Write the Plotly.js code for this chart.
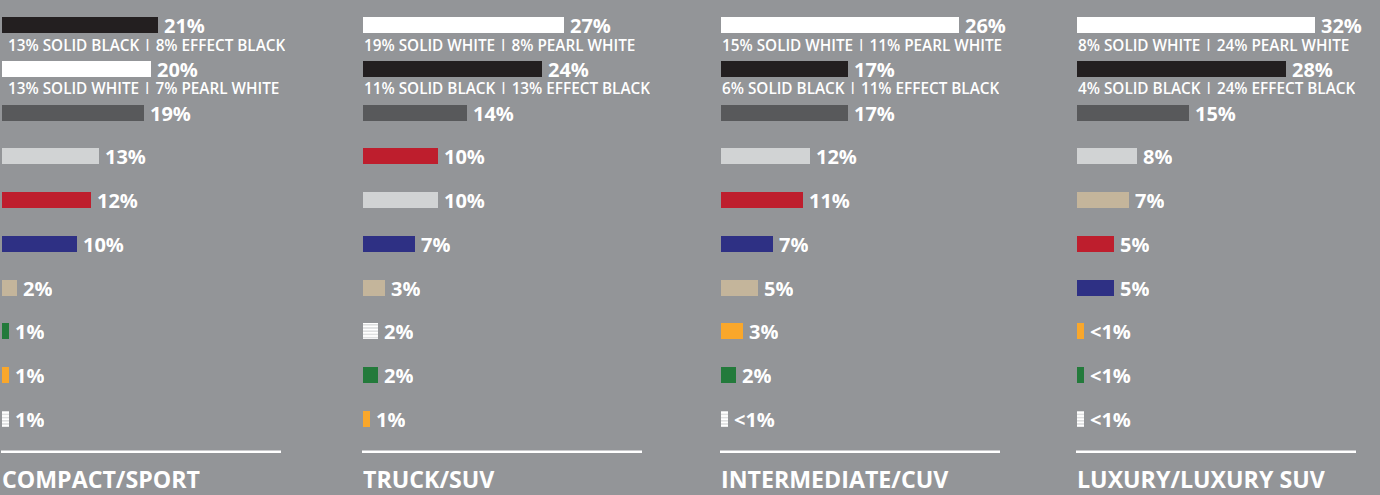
<!DOCTYPE html>
<html>
<head>
<meta charset="utf-8">
<script src="https://cdn.plot.ly/plotly-3.0.1.min.js"></script>
<style>
html,body{margin:0;padding:0;background:#939598;}
#chart{width:1380px;height:495px;}
</style>
</head>
<body>
<div id="chart"></div>
<script>
// ---- DATA ----
const segments = ["COMPACT/SPORT", "TRUCK/SUV", "INTERMEDIATE/CUV", "LUXURY/LUXURY SUV"];

const compactColors = ["black","white","gray","silver","red","blue","tan","green","orange","other"];
const compactValues = [21, 20, 19, 13, 12, 10, 2, 1, 1, 1];
const compactLabels = ["21%","20%","19%","13%","12%","10%","2%","1%","1%","1%"];
const compactSubs   = ["13% SOLID BLACK | 8% EFFECT BLACK", "13% SOLID WHITE | 7% PEARL WHITE"];

const truckColors = ["white","black","gray","red","silver","blue","tan","other","green","orange"];
const truckValues = [27, 24, 14, 10, 10, 7, 3, 2, 2, 1];
const truckLabels = ["27%","24%","14%","10%","10%","7%","3%","2%","2%","1%"];
const truckSubs   = ["19% SOLID WHITE | 8% PEARL WHITE", "11% SOLID BLACK | 13% EFFECT BLACK"];

const interColors = ["white","black","gray","silver","red","blue","tan","orange","green","other"];
// bar lengths as drawn in the picture (the 26% bar is drawn longer in the original)
const interValues = [32, 17, 17, 12, 11, 7, 5, 3, 2, 1];
const interLabels = ["26%","17%","17%","12%","11%","7%","5%","3%","2%","<1%"];
const interSubs   = ["15% SOLID WHITE | 11% PEARL WHITE", "6% SOLID BLACK | 11% EFFECT BLACK"];

const luxColors = ["white","black","gray","silver","tan","red","blue","orange","green","other"];
const luxValues = [32, 28, 15, 8, 7, 5, 5, 1, 1, 1];
const luxLabels = ["32%","28%","15%","8%","7%","5%","5%","<1%","<1%","<1%"];
const luxSubs   = ["8% SOLID WHITE | 24% PEARL WHITE", "4% SOLID BLACK | 24% EFFECT BLACK"];

// ---- STYLE ----
const BG = "#939598";
const palette = {
  black:"#231f20", white:"#ffffff", gray:"#58595b", silver:"#d1d3d4",
  red:"#be1e2d", blue:"#2e3084", tan:"#c4b59b", green:"#237a3b",
  orange:"#f9a72b"
};
const panels = [
  {colors:compactColors, values:compactValues, labels:compactLabels, subs:compactSubs, x0:2, subIndent:4},
  {colors:truckColors, values:truckValues, labels:truckLabels, subs:truckSubs, x0:363, subIndent:-1},
  {colors:interColors, values:interValues, labels:interLabels, subs:interSubs, x0:721, subIndent:-1},
  {colors:luxColors, values:luxValues, labels:luxLabels, subs:luxSubs, x0:1077, subIndent:-1}
];

const W = 1380, H = 495;
const PXPER = 7.45;       // pixels per percent
const PANELW = 300;       // px width of each x-domain
const ROW0 = 25, ROWGAP = 43.78;
const FONT = "'Open Sans', sans-serif";

const traces = [], annotations = [], shapes = [];
const layout = {
  width: W, height: H,
  margin: {l:0, r:0, t:0, b:0},
  paper_bgcolor: BG, plot_bgcolor: BG,
  showlegend: false,
  bargap: 0, barmode: "overlay",
  annotations, shapes
};

panels.forEach((p, k) => {
  const xa = k === 0 ? "x" : "x" + (k+1);
  const ya = k === 0 ? "y" : "y" + (k+1);
  const xk = k === 0 ? "xaxis" : "xaxis" + (k+1);
  const yk = k === 0 ? "yaxis" : "yaxis" + (k+1);
  const rows = p.values.map((v, i) => i);
  layout[xk] = {
    domain: [p.x0 / W, (p.x0 + PANELW) / W],
    range: [0, PANELW / PXPER],
    visible: false, fixedrange: true, anchor: ya
  };
  layout[yk] = {
    domain: [0, 1],
    range: [(H - ROW0) / ROWGAP, -ROW0 / ROWGAP],
    visible: false, fixedrange: true, anchor: xa
  };

  const solid = rows.filter(i => p.colors[i] !== "other");
  const striped = rows.filter(i => p.colors[i] === "other");

  traces.push({
    type: "bar", orientation: "h",
    x: solid.map(i => p.values[i]), y: solid,
    xaxis: xa, yaxis: ya,
    width: 16 / ROWGAP,
    marker: {color: solid.map(i => palette[p.colors[i]]), line: {width: 0}},
    hoverinfo: "skip"
  });
  traces.push({
    type: "bar", orientation: "h",
    x: striped.map(i => p.values[i]), y: striped,
    xaxis: xa, yaxis: ya,
    width: 16 / ROWGAP,
    marker: {
      color: "#ffffff", line: {width: 0},
      pattern: {shape: "-", fgcolor: BG, bgcolor: "#ffffff", size: 3.2, solidity: 0.3, fillmode: "overlay"}
    },
    hoverinfo: "skip"
  });

  p.labels.forEach((lab, i) => {
    annotations.push({
      xref: xa, yref: ya, x: p.values[i], y: rows[i],
      text: lab, showarrow: false, xanchor: "left", yanchor: "middle",
      xshift: 4, yshift: 0, height: 18,
      font: {family: FONT, size: 20, color: "#ffffff", weight: 700}
    });
  });
  p.subs.forEach((s, i) => {
    annotations.push({
      xref: xa, yref: ya, x: 0, y: rows[i],
      text: s, showarrow: false, xanchor: "left", yanchor: "middle",
      xshift: p.subIndent, yshift: -19, height: 13,
      font: {family: FONT, size: 15.3, color: "#ffffff", weight: 600}
    });
  });

  shapes.push({
    type: "line", xref: xa + " domain", yref: "paper",
    x0: -1 / PANELW, x1: 279 / PANELW, y0: 1 - 451.7 / H, y1: 1 - 451.7 / H,
    line: {color: "#ffffff", width: 2.5}
  });
  annotations.push({
    xref: xa + " domain", yref: "paper", x: 0, y: 1 - 479 / H,
    xshift: -2, height: 20,
    text: segments[k], showarrow: false, xanchor: "left", yanchor: "middle",
    font: {family: FONT, size: 23.2, color: "#ffffff", weight: 700}
  });
});

Plotly.newPlot("chart", traces, layout, {staticPlot: true, displayModeBar: false});
</script>
</body>
</html>
